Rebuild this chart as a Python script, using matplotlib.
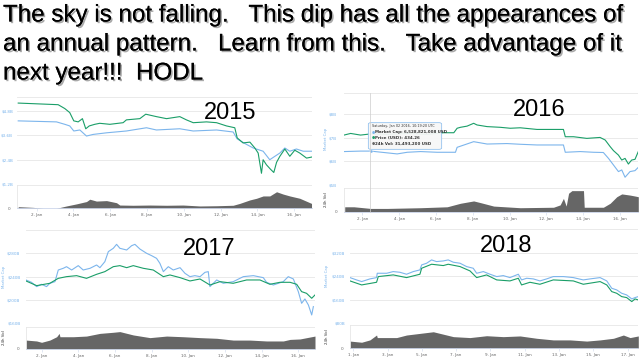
import matplotlib
matplotlib.use('Agg')
import matplotlib.pyplot as plt
import matplotlib.patheffects as pe
from matplotlib.patches import FancyBboxPatch

# ---- title ----
title_lines = ["The sky is not falling.   This dip has all the appearances of",
               "an annual pattern.   Learn from this.   Take advantage of it",
               "next year!!!  HODL"]

# ---- 2015 (market cap, $B; green line read on the same scale) ----
d15_green = [1.00, 3.17, 3.53, 3.80, 4.02, 4.26, 4.49, 4.67, 4.86, 5.16,
             5.43, 5.98, 6.70, 6.88, 7.61, 7.93, 8.51, 9.06, 9.78, 10.14,
             10.51, 11.23, 11.78, 12.32, 12.77, 12.90, 13.22, 13.59, 13.86, 14.04,
             14.22, 14.31, 14.49, 14.71, 14.89, 15.04, 15.22, 15.49, 15.76, 16.03,
             16.30, 16.67, 16.94]
v15_green = [5.20, 5.12, 4.93, 4.73, 4.32, 4.27, 4.43, 3.93, 4.07, 4.15,
             4.20, 4.15, 4.23, 4.37, 4.43, 4.65, 4.53, 4.43, 4.53, 4.37,
             4.23, 4.27, 4.23, 4.07, 3.98, 3.48, 3.23, 3.27, 2.98, 2.73,
             1.73, 2.40, 2.15, 1.93, 1.77, 2.27, 2.57, 2.93, 2.57, 2.87,
             2.73, 2.48, 2.53]
d15_blue = [1.00, 3.08, 3.53, 3.80, 4.02, 4.35, 4.71, 5.07, 5.80, 6.88,
            7.97, 8.51, 9.78, 10.51, 11.78, 12.68, 12.90, 13.32, 13.77, 14.31,
            14.67, 14.95, 15.22, 15.49, 15.76, 16.12, 16.49, 16.94]
v15_blue = [4.32, 4.27, 4.15, 4.07, 3.82, 3.87, 3.57, 3.65, 3.73, 3.82,
            3.98, 3.87, 3.93, 3.82, 3.87, 3.77, 3.43, 3.20, 2.98, 2.82,
            2.40, 2.57, 2.73, 2.98, 2.82, 2.93, 2.82, 2.82]
d15_vol = [1.00, 1.81, 2.36, 3.08, 3.62, 4.17, 4.71, 4.89, 5.25, 5.80,
           6.34, 6.52, 7.25, 8.15, 9.06, 9.96, 10.87, 11.78, 12.68, 13.04,
           13.59, 13.95, 14.31, 14.67, 15.04, 15.40, 15.76, 16.30, 16.94]
v15_vol = [0.07, 0.04, 0.0, 0.0, 0.10, 0.19, 0.29, 0.39, 0.31, 0.33,
           0.24, 0.14, 0.13, 0.14, 0.13, 0.14, 0.10, 0.11, 0.13, 0.21,
           0.36, 0.43, 0.53, 0.53, 0.71, 0.61, 0.53, 0.43, 0.21]

# ---- 2016 ----
d16_green = [1.00, 1.36, 1.90, 2.45, 3.35, 4.44, 5.52, 6.42, 6.97, 7.15,
             7.33, 7.69, 8.05, 8.23, 8.78, 9.50, 10.04, 10.58, 11.49, 12.39,
             12.93, 13.03, 13.48, 14.20, 14.92, 15.20, 15.47, 15.65, 15.92, 16.10,
             16.28, 16.46, 16.64, 16.82, 17.00]
v16_green = [7.12, 7.19, 7.12, 7.17, 7.15, 7.19, 7.15, 7.22, 7.22, 7.41,
             7.45, 7.50, 7.62, 7.55, 7.48, 7.45, 7.41, 7.43, 7.36, 7.36,
             7.36, 7.05, 7.05, 6.98, 7.02, 6.91, 6.63, 6.46, 6.27, 6.06,
             6.13, 5.89, 6.06, 6.09, 6.42]
d16_blue = [1.00, 1.90, 2.45, 3.89, 4.44, 5.16, 6.06, 7.06, 7.15, 8.05,
            8.78, 9.86, 10.58, 11.49, 12.93, 13.03, 13.84, 14.56, 15.10, 15.38,
            15.65, 15.92, 16.10, 16.28, 16.55, 16.82, 17.00]
v16_blue = [6.42, 6.44, 6.44, 6.32, 6.39, 6.42, 6.39, 6.39, 6.60, 6.84,
            6.74, 6.76, 6.73, 6.70, 6.70, 6.39, 6.42, 6.39, 6.38, 6.13,
            5.85, 5.57, 5.64, 5.33, 5.57, 5.61, 5.75]
d16_vol = [1.04, 1.54, 2.45, 3.35, 5.16, 6.61, 7.33, 8.05, 8.41, 9.14,
           10.58, 12.39, 12.75, 12.93, 13.08, 13.21, 13.39, 14.02, 14.06, 15.10,
           15.47, 15.83, 16.10, 16.55, 16.82, 17.00]
v16_vol = [0.21, 0.21, 0.14, 0.14, 0.17, 0.21, 0.36, 0.46, 0.39, 0.24,
           0.17, 0.19, 0.29, 0.57, 0.24, 0.79, 0.90, 0.90, 0.19, 0.19,
           0.36, 0.64, 0.76, 0.71, 0.67, 0.64]

# ---- 2017 ----
d17_blue = [1.15, 1.45, 1.73, 2.00, 2.27, 2.45, 2.73, 2.91, 3.18, 3.36,
            3.64, 4.00, 4.27, 4.64, 5.00, 5.18, 5.45, 5.64, 5.91, 6.09,
            6.27, 6.64, 6.91, 7.09, 7.36, 7.73, 8.00, 8.27, 8.45, 8.64,
            8.91, 9.18, 9.55, 9.82, 10.09, 10.36, 10.64, 10.91, 11.09, 11.18,
            11.55, 11.91, 12.45, 13.00, 13.55, 14.09, 14.27, 14.64, 15.18, 15.45,
            15.73, 16.00, 16.18, 16.36, 16.55, 16.73, 16.82]
v17_blue = [234.3, 230.3, 222.9, 226.9, 222.9, 228.6, 231.4, 251.4, 254.3, 257.1,
            251.4, 258.9, 251.4, 254.3, 260.0, 255.4, 265.7, 282.9, 288.6, 295.4,
            288.6, 285.7, 293.1, 295.4, 287.4, 280.0, 276.0, 271.4, 262.9, 248.6,
            257.1, 251.4, 255.4, 245.7, 240.0, 241.7, 240.0, 247.4, 248.6, 222.9,
            234.3, 228.6, 231.4, 240.0, 241.7, 238.3, 230.3, 225.7, 231.4, 240.0,
            236.0, 214.3, 194.3, 201.7, 191.4, 174.3, 188.6]
d17_green = [1.15, 1.73, 2.45, 2.91, 3.36, 3.91, 4.45, 5.00, 5.45, 5.91,
             6.27, 6.64, 7.00, 7.55, 8.09, 8.64, 9.00, 9.55, 10.09, 10.64,
             11.18, 11.73, 12.45, 13.18, 13.91, 14.45, 15.00, 15.55, 15.91, 16.18,
             16.45, 16.73, 16.91]
v17_green = [232.6, 224.6, 228.6, 237.1, 240.0, 241.7, 237.1, 244.0, 248.6, 257.1,
             258.9, 255.4, 258.9, 254.3, 251.4, 240.0, 242.9, 238.3, 232.6, 236.0,
             225.7, 231.4, 228.6, 234.3, 234.3, 226.9, 230.3, 230.3, 226.9, 214.3,
             211.4, 202.9, 208.6]
d17_vol = [1.15, 1.73, 2.00, 2.45, 2.82, 2.96, 3.00, 3.73, 4.45, 5.18,
           5.91, 6.27, 7.00, 7.91, 8.82, 9.73, 10.64, 11.55, 12.45, 13.36,
           14.27, 15.18, 15.55, 16.09, 16.91]
v17_vol = [0.40, 0.36, 0.30, 0.40, 0.55, 0.70, 0.55, 0.55, 0.58, 0.70,
           0.75, 0.78, 0.63, 0.51, 0.58, 0.55, 0.51, 0.48, 0.40, 0.40,
           0.36, 0.36, 0.43, 0.45, 0.58]

# ---- 2018 ----
d18_blue = [0.81, 1.19, 1.49, 1.97, 2.36, 2.40, 2.95, 3.33, 3.72, 4.11,
            4.50, 4.89, 4.99, 5.28, 5.57, 5.86, 6.25, 6.54, 6.84, 7.23,
            7.61, 8.00, 8.20, 8.59, 8.98, 9.37, 9.75, 10.14, 10.63, 10.82,
            11.12, 11.51, 11.89, 12.28, 12.67, 13.26, 13.84, 14.42, 14.81, 15.40,
            15.79, 16.08, 16.37, 16.66, 16.95, 17.25, 17.44, 17.63]
v18_blue = [235.1, 227.2, 221.6, 230.6, 235.1, 249.8, 249.8, 255.5, 253.2, 246.5,
            255.5, 261.2, 278.1, 283.8, 295.1, 289.4, 291.6, 295.1, 287.2, 283.8,
            272.5, 266.8, 249.8, 255.5, 246.5, 238.5, 241.9, 235.1, 246.5, 227.2,
            232.9, 230.6, 223.8, 230.6, 238.5, 238.5, 235.1, 227.2, 230.6, 235.1,
            223.8, 198.9, 193.3, 181.9, 176.3, 162.7, 167.3, 170.6]
d18_green = [0.81, 1.49, 2.36, 2.46, 3.33, 4.11, 4.89, 4.99, 5.57, 6.25,
             6.54, 7.23, 7.81, 8.20, 8.78, 9.37, 10.14, 10.63, 10.82, 11.31,
             11.89, 12.67, 13.84, 14.42, 15.40, 15.79, 16.08, 16.37, 16.66, 16.95,
             17.25, 17.44, 17.63]
v18_green = [223.8, 210.2, 219.2, 238.5, 244.2, 235.1, 246.5, 266.8, 280.4, 275.9,
             280.4, 272.5, 257.8, 235.1, 244.2, 227.2, 223.8, 232.9, 210.2, 219.2,
             212.5, 227.2, 223.8, 212.5, 221.6, 210.2, 187.6, 181.9, 170.6, 167.3,
             153.7, 162.7, 159.3]
d18_vol = [0.81, 1.49, 1.97, 2.36, 2.40, 3.53, 4.11, 4.89, 5.67, 6.06,
           6.84, 7.81, 8.78, 9.75, 10.73, 11.70, 12.67, 13.65, 14.62, 15.40,
           16.18, 16.76, 17.15, 17.63]
v18_vol = [0.31, 0.26, 0.36, 0.57, 0.46, 0.46, 0.57, 0.64, 0.71, 0.64,
           0.50, 0.46, 0.54, 0.50, 0.53, 0.43, 0.36, 0.36, 0.31, 0.36,
           0.43, 0.57, 0.46, 0.53]

tooltip_lines = ["Market Cap: 6,528,821,008 USD", "Price (USD): 434.26", "24h Vol: 31,493,200 USD"]

W, H = 640, 358
BLUE = '#7cb5ec'
GREEN = '#1a9e68'
VOLGRAY = '#666666'
GRID = '#e6e6e6'


def px_axes(fig, x0, x1, y0, y1):
    return fig.add_axes([x0 / W, 1 - y1 / H, (x1 - x0) / W, (y1 - y0) / H])


def draw_panel(fig, main_box, vol_box, xlim, ylim, yticks, ylabels,
               dg, vg, db, vb, dv, vv, xticks, year, year_xy, side_x=None, ypad=3):
    ax = px_axes(fig, *main_box)
    ax.plot(db, vb, color=BLUE, lw=0.8)
    ax.plot(dg, vg, color=GREEN, lw=0.8)
    ax.set_xlim(*xlim)
    ax.set_ylim(*ylim)
    ax.set_xticks([])
    ax.set_yticks(yticks)
    ax.set_yticklabels(ylabels, fontsize=3.0, color=BLUE)
    ax.tick_params(axis='y', length=0, pad=ypad)
    for ytk in list(yticks) + [ylim[1]]:
        ax.axhline(ytk, color=GRID, lw=0.6, zorder=0)
    for s in ax.spines.values():
        s.set_visible(False)

    av = px_axes(fig, *vol_box)
    av.fill_between(dv, 0, vv, color=VOLGRAY, lw=0)
    av.set_xlim(*xlim)
    av.set_ylim(0, 1)
    av.set_yticks([0])
    av.set_yticklabels(['0'], fontsize=3.0, color='#666666')
    av.tick_params(axis='y', length=0, pad=5)
    av.axhline(1, color=GRID, lw=0.6)
    av.set_xticks(xticks)
    av.set_xticklabels(['%d. Jan' % t for t in xticks], fontsize=3.0, color='#666666')
    av.tick_params(axis='x', length=2, width=0.4, color='#ccd6eb', pad=1.5)
    for k in ['top', 'right']:
        av.spines[k].set_visible(False)
    av.spines['left'].set_color(GRID)
    av.spines['left'].set_linewidth(0.6)
    av.spines['bottom'].set_color('#ccd6eb')
    av.spines['bottom'].set_linewidth(0.6)

    if side_x is not None:
        fig.text(side_x / W, 1 - (main_box[2] + main_box[3]) / 2 / H, 'Market Cap',
                 rotation=90, fontsize=2.8, color=BLUE, ha='center', va='center')
        fig.text(side_x / W, 1 - (vol_box[2] + vol_box[3]) / 2 / H, '24h Vol',
                 rotation=90, fontsize=2.8, color='#333333', ha='center', va='center')

    fig.text(year_xy[0] / W, 1 - year_xy[1] / H, year, fontsize=17,
             family='Liberation Sans', ha='center', va='center', color='black')
    return ax


fig = plt.figure(figsize=(6.4, 3.58), dpi=100)
fig.patch.set_facecolor('white')

shadow = [pe.withSimplePatchShadow(offset=(1.2, -1.2), shadow_rgbFace='#555555', alpha=0.5),
          pe.Normal()]
for i, line in enumerate(title_lines):
    fig.text(3 / W, 1 - (21.5 + 29 * i) / H, line, fontsize=17.4, family='Liberation Sans',
             va='baseline', ha='left', color='black', path_effects=shadow)

even = list(range(2, 17, 2))
odd = list(range(1, 18, 2))

draw_panel(fig, (17.3, 311.7, 97, 184), (17.3, 311.7, 185, 208.3), (0.95, 16.95), (1.2, 5.5),
           [1.2, 2.4, 3.6, 4.8], ['$1.2B', '$2.4B', '$3.6B', '$4.8B'],
           d15_green, v15_green, d15_blue, v15_blue, d15_vol, v15_vol,
           even, '2015', (230, 113), side_x=None, ypad=3)

ax16 = draw_panel(fig, (344, 638.3, 92.7, 185), (344, 638.3, 188.3, 211.7), (1.0, 17.0), (5.0, 8.92),
                  [5, 6, 7, 8], ['$5B', '$6B', '$7B', '$8B'],
                  d16_green, v16_green, d16_blue, v16_blue, d16_vol, v16_vol,
                  even, '2016', (539, 109.5), side_x=326, ypad=5)

draw_panel(fig, (26, 315, 230, 323.3), (26, 315, 326.7, 349), (1.15, 16.91), (160, 320),
           [160, 200, 240, 280], ['$160B', '$200B', '$240B', '$280B'],
           d17_green, v17_green, d17_blue, v17_blue, d17_vol, v17_vol,
           even, '2017', (209, 249), side_x=4, ypad=4)

draw_panel(fig, (350, 638.3, 229, 323.3), (350, 638.3, 325, 348.3), (0.81, 17.63), (80, 400),
           [80, 160, 240, 320], ['$80B', '$160B', '$240B', '$320B'],
           d18_green, v18_green, d18_blue, v18_blue, d18_vol, v18_vol,
           odd, '2018', (506, 246), side_x=327, ypad=3.5)

# crosshair + tooltip on 2016 panel
fig.add_artist(plt.Line2D([370 / W, 370 / W], [1 - 92.7 / H, 1 - 211.7 / H], color='#cccccc', lw=0.5))
ax16.plot([2.45], [6.44], 'o', color=BLUE, ms=2.2, mec='white', mew=0.3, zorder=5)
box = FancyBboxPatch((368.3 / W, 1 - 149.3 / H), 73.4 / W, 26.6 / H,
                     boxstyle='round,pad=0,rounding_size=0.004', transform=fig.transFigure,
                     facecolor='#f7f7f7', edgecolor=BLUE, lw=0.5, alpha=0.95)
fig.add_artist(box)
fig.text(372 / W, 1 - 126.5 / H, 'Saturday, Jan 02 2016, 10:19:20 UTC', fontsize=2.4,
         color='#333333', va='center')
for i, (txt, c) in enumerate(zip(tooltip_lines, [BLUE, GREEN, VOLGRAY])):
    y = 1 - (132.5 + 5.6 * i) / H
    fig.text(371.5 / W, y, '\u25cf', fontsize=2.6, color=c, va='center')
    fig.text(375 / W, y, txt, fontsize=2.9, color='#333333', va='center', fontweight='bold')

fig.savefig('out.png', dpi=100)
